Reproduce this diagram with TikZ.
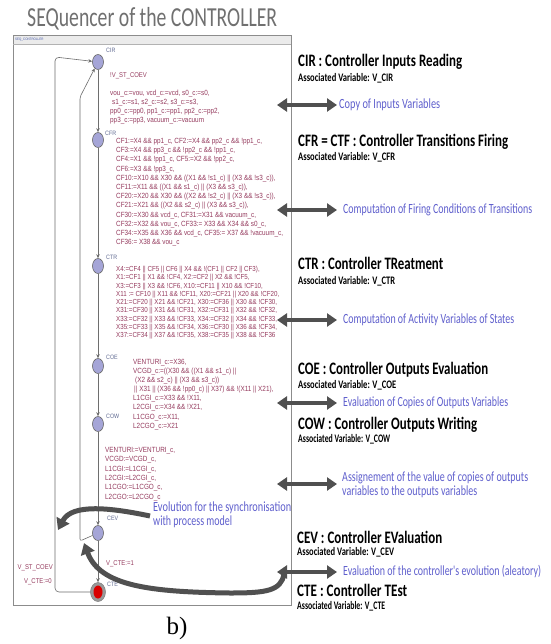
\documentclass[tikz,border=0pt]{standalone}
\usepackage{graphicx}
\usepackage{fontspec}
\setmainfont{Liberation Sans}
\newfontfamily\calib[FakeStretch=0.72]{Carlito}
\newfontfamily\uppf[FakeStretch=0.85]{Liberation Sans}
\newfontfamily\serf{Liberation Serif}
\usetikzlibrary{arrows.meta,shapes.geometric}
\definecolor{titlegray}{RGB}{112,112,112}
\definecolor{asgn}{RGB}{150,60,95}
\definecolor{lblc}{RGB}{95,105,145}
\definecolor{bluelbl}{RGB}{95,95,205}
\definecolor{stfill}{RGB}{165,165,215}
\definecolor{arrowgray}{RGB}{80,80,80}
\definecolor{edgegray}{RGB}{110,110,110}
\definecolor{hdrblue}{RGB}{70,90,170}
\newcommand\andop{\&\&}
\newcommand\fitw[2]{\resizebox{#1}{\height}{#2}}
\begin{document}
\begin{tikzpicture}[x=1pt,y=-1pt,
  stnode/.style={ellipse,minimum width=11pt,minimum height=15pt,inner sep=0pt,fill=stfill,draw=black!60,line width=0.6pt},
  ctering/.style={ellipse,minimum width=15pt,minimum height=19pt,inner sep=0pt,fill=black!40,draw=black!50,line width=0.5pt},
  ctecore/.style={ellipse,minimum width=9pt,minimum height=13pt,inner sep=0pt,fill=red!85!black},
  stlabel/.style={font=\uppf\fontsize{6.3}{7}\selectfont,text=lblc,anchor=west,inner sep=0pt},
  asg/.style={font=\uppf\fontsize{7.5}{#1}\selectfont,text=asgn,align=left,anchor=north west,inner sep=0pt},
  asg/.default=9.2,
  guardtxt/.style={font=\uppf\fontsize{7}{8}\selectfont,text=asgn,inner sep=0pt},
  stedge/.style={draw=edgegray,line width=0.6pt,-{Stealth[length=4pt,width=3.5pt]}},
  rtitle/.style={font=\calib\bfseries\fontsize{17.5}{19}\selectfont,anchor=west,inner sep=0pt},
  assoc/.style={font=\calib\bfseries\fontsize{11.5}{12}\selectfont,anchor=west,inner sep=0pt},
  bluetxt/.style={font=\calib\fontsize{14}{14.5}\selectfont,text=bluelbl,anchor=west,inner sep=0pt,align=left},
  dblarrow/.style={draw=arrowgray,line width=4pt,{Triangle[length=10pt,width=13pt]}-{Triangle[length=10pt,width=13pt]}},
  bigcurve/.style={draw=arrowgray,line width=5pt,-{Triangle[length=11pt,width=14pt]}}
]
\useasboundingbox (0,0) rectangle (550,644);
\fill[white] (0,0) rectangle (550,644);

% title
\node[font=\calib\fontsize{27.5}{29}\selectfont,text=titlegray,anchor=west,inner sep=0pt] (title) at (27,19) {\fitw{250pt}{SEQuencer of the CONTROLLER}};

% panel
\fill[black!8] (13,35) rectangle (291,44);
\draw[black!45,line width=0.6pt] (13,35) rectangle (291,605);
\draw[black!30,line width=0.4pt] (13,44) -- (291,44);
\node[font=\uppf\fontsize{3.5}{4}\selectfont,text=hdrblue,anchor=west,inner sep=0pt] (hdr) at (15,39.5) {SEQ\_CONTROLLER};

% states
\node[stnode] (cir) at (98,62) {};
\node[stnode] (cfr) at (98,140) {};
\node[stnode] (ctr) at (98,266) {};
\node[stnode] (coe) at (98,366) {};
\node[stnode] (cow) at (98,424) {};
\node[stnode] (cev) at (98,533) {};
\node[ctering] (cte) at (98,592) {};
\node[ctecore] (ctein) at (cte.center) {};

% state labels
\node[stlabel] (lcir) at (106,50) {CIR};
\node[stlabel] (lcfr) at (105,133) {CFR};
\node[stlabel] (lctr) at (106,257) {CTR};
\node[stlabel] (lcoe) at (106,357) {COE};
\node[stlabel] (lcow) at (106,416) {COW};
\node[stlabel] (lcev) at (107,518) {CEV};
\node[stlabel] (lcte) at (107,584) {CTE};

% main chain
\draw[stedge] (cir) -- (cfr);
\draw[stedge] (cfr) -- (ctr);
\draw[stedge] (ctr) -- (coe);
\draw[stedge] (coe) -- (cow);
\draw[stedge] (cow) -- (cev);
\draw[stedge] (cev) -- (cte);

% loops
\coordinate (olt) at (55,57);
\coordinate (olb) at (55,592);
\coordinate (ilt) at (80,97);
\coordinate (ilb) at (80,541);
\draw[stedge,rounded corners=4pt] (cte) -- (olb) -- (olt) -- (cir);
\draw[stedge,rounded corners=2pt] (cev) -- (ilb) -- (ilt) -- (cir);

% guard / updates
\node[guardtxt,anchor=west] (g1) at (110,76) {!V\_ST\_COEV};
\node[asg=9] (u1) at (110,90) {vou\_c:=vou, vcd\_c:=vcd, s0\_c:=s0,\\
\hspace*{2pt}s1\_c:=s1, s2\_c:=s2, s3\_c:=s3,\\
pp0\_c:=pp0, pp1\_c:=pp1, pp2\_c:=pp2,\\
pp3\_c:=pp3, vacuum\_c:=vacuum};

\node[asg=9.2] (u2) at (116,138) {CF1:=X4 \andop{} pp1\_c, CF2:=X4 \andop{} pp2\_c \andop{} !pp1\_c,\\
CF3:=X4 \andop{} pp3\_c \andop{} !pp2\_c \andop{} !pp1\_c,\\
CF4:=X1 \andop{} !pp1\_c, CF5:=X2 \andop{} !pp2\_c,\\
CF6:=X3 \andop{} !pp3\_c,\\
CF10:=X10 \andop{} X30 \andop{} ((X1 \andop{} !s1\_c) || (X3 \andop{} !s3\_c)),\\
CF11:=X11 \andop{} ((X1 \andop{} s1\_c) || (X3 \andop{} s3\_c)),\\
CF20:=X20 \andop{} X30 \andop{} ((X2 \andop{} !s2\_c) || (X3 \andop{} !s3\_c)),\\
CF21:=X21 \andop{} ((X2 \andop{} s2\_c) || (X3 \andop{} s3\_c)),\\
CF30:=X30 \andop{} vcd\_c, CF31:=X31 \andop{} vacuum\_c,\\
CF32:=X32 \andop{} vou\_c, CF33:= X33 \andop{} X34 \andop{} s0\_c,\\
CF34:=X35 \andop{} X36 \andop{} vcd\_c, CF35:= X37 \andop{} !vacuum\_c,\\
CF36:= X38 \andop{} vou\_c};

\node[asg=8.3,font=\uppf\fontsize{7.3}{8.3}\selectfont] (u3) at (116,266) {X4:=CF4 || CF5 || CF6 || X4 \andop{} !(CF1 || CF2 || CF3),\\
X1:=CF1 || X1 \andop{} !CF4, X2:=CF2 || X2 \andop{} !CF5,\\
X3:=CF3 || X3 \andop{} !CF6, X10:=CF11 || X10 \andop{} !CF10,\\
X11 := CF10 || X11 \andop{} !CF11, X20:=CF21 || X20 \andop{} !CF20,\\
X21:=CF20 || X21 \andop{} !CF21, X30:=CF36 || X30 \andop{} !CF30,\\
X31:=CF30 || X31 \andop{} !CF31, X32:=CF31 || X32 \andop{} !CF32,\\
X33:=CF32 || X33 \andop{} !CF33, X34:=CF32 || X34 \andop{} !CF33,\\
X35:=CF33 || X35 \andop{} !CF34, X36:=CF30 || X36 \andop{} !CF34,\\
X37:=CF34 || X37 \andop{} !CF35, X38:=CF35 || X38 \andop{} !CF36};

\node[asg=9.1] (u4) at (133,359) {VENTURI\_c:=X36,\\
VCGD\_c:=((X30 \andop{} ((X1 \andop{} s1\_c) ||\\
\hspace*{2pt}(X2 \andop{} s2\_c) || (X3 \andop{} s3\_c))\\
\hspace*{1pt}|| X31 || (X36 \andop{} !pp0\_c) || X37) \andop{} !(X11 || X21),\\
L1CGI\_c:=X33 \andop{} !X11,\\
L2CGI\_c:=X34 \andop{} !X21,\\
L1CGO\_c:=X11,\\
L2CGO\_c:=X21};

\node[asg=9.4] (u5) at (105,447) {VENTURI:=VENTURI\_c,\\
VCGD:=VCGD\_c,\\
L1CGI:=L1CGI\_c,\\
L2CGI:=L2CGI\_c,\\
L1CGO:=L1CGO\_c,\\
L2CGO:=L2CGO\_c};

\node[guardtxt,anchor=west] (u6) at (106,564) {V\_CTE:=1};
\node[guardtxt,anchor=east] (g2) at (53,568) {V\_ST\_COEV};
\node[guardtxt,anchor=east] (u7) at (52,582) {V\_CTE:=0};

% synchronisation text and curves
\node[bluetxt] (evo) at (153,515) {\fitw{138pt}{Evolution for the synchronisation}\\\fitw{79pt}{with process model}};
\coordinate (c1s) at (150,516);
\coordinate (c1e) at (58,530);
\draw[bigcurve] (c1s) .. controls (112,508) and (72,503) .. (c1e);

% right side descriptions
\node[rtitle] (tcir) at (298,62) {\fitw{164pt}{CIR : Controller Inputs Reading}};
\node[assoc] (acir) at (298,78) {\fitw{95pt}{Associated Variable: V\_CIR}};
\node[rtitle] (tcfr) at (298,142) {\fitw{210pt}{CFR = CTF : Controller Transitions Firing}};
\node[assoc] (acfr) at (298,157) {\fitw{97pt}{Associated Variable: V\_CFR}};
\node[rtitle] (tctr) at (298,263) {\fitw{145pt}{CTR : Controller TReatment}};
\node[assoc] (actr) at (298,281) {\fitw{97pt}{Associated Variable: V\_CTR}};
\node[rtitle] (tcoe) at (298,370) {\fitw{190pt}{COE : Controller Outputs Evaluation}};
\node[assoc] (acoe) at (298,385) {\fitw{98pt}{Associated Variable: V\_COE}};
\node[rtitle] (tcow) at (298,425) {\fitw{179pt}{COW : Controller Outputs Writing}};
\node[assoc] (acow) at (298,439) {\fitw{92pt}{Associated Variable: V\_COW}};
\node[rtitle] (tcev) at (297,537) {\fitw{145pt}{CEV : Controller EValuation}};
\node[assoc] (acev) at (297,552) {\fitw{97pt}{Associated Variable: V\_CEV}};
\node[rtitle] (tcte) at (297,590) {\fitw{110pt}{CTE : Controller TEst}};
\node[assoc] (acte) at (297,606.5) {\fitw{88pt}{Associated Variable: V\_CTE}};

% double arrows and their labels
\coordinate (a1l) at (277,105); \coordinate (a1r) at (337,105);
\coordinate (a2l) at (277,210); \coordinate (a2r) at (337,210);
\coordinate (a3l) at (277,320); \coordinate (a3r) at (337,320);
\coordinate (a4l) at (277,403); \coordinate (a4r) at (337,403);
\coordinate (a5l) at (277,484); \coordinate (a5r) at (337,484);
\coordinate (a6l) at (277,572); \coordinate (a6r) at (337,572);
\draw[dblarrow] (a1l) -- (a1r);
\draw[dblarrow] (a2l) -- (a2r);
\draw[dblarrow] (a3l) -- (a3r);
\draw[dblarrow] (a4l) -- (a4r);
\draw[dblarrow] (a5l) -- (a5r);
\draw[dblarrow] (a6l) -- (a6r);
\node[bluetxt] (b1) at (339,105) {\fitw{101pt}{Copy of Inputs Variables}};
\node[bluetxt] (b2) at (343,210) {\fitw{189pt}{Computation of Firing Conditions of Transitions}};
\node[bluetxt] (b3) at (343,320) {\fitw{171pt}{Computation of Activity Variables of States}};
\node[bluetxt] (b4) at (343,403) {\fitw{165pt}{Evaluation of Copies of Outputs Variables}};
\node[bluetxt] (b5) at (342,485) {\fitw{186pt}{Assignement of the value of copies of outputs}\\\fitw{135pt}{variables to the outputs variables}};
\node[bluetxt] (b6) at (343,572) {\fitw{198pt}{Evaluation of the controller's evolution (aleatory)}};

% second curved arrow
\coordinate (c2s) at (284,574);
\coordinate (c2m) at (230,593);
\coordinate (c2e) at (84,543);
\draw[bigcurve] (c2s) .. controls (281,591) and (266,593) .. (c2m) .. controls (150,592) and (100,586) .. (c2e);

% caption
\node[font=\serf\fontsize{25}{27}\selectfont,inner sep=0pt] (cap) at (177,628) {b)};
\end{tikzpicture}
\end{document}
